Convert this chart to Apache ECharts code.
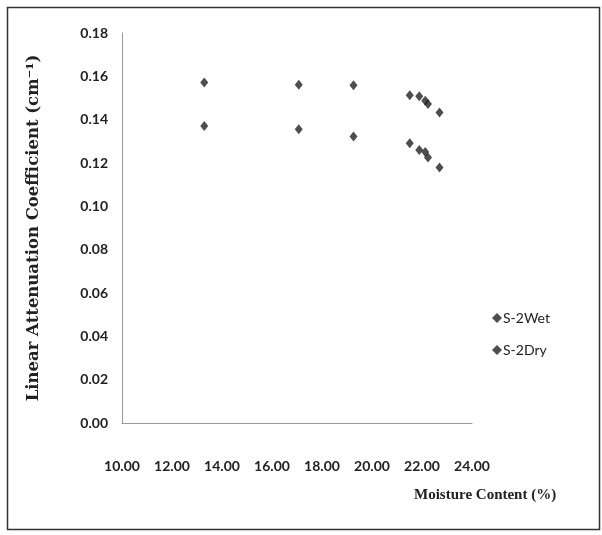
<!DOCTYPE html>
<html>
<head>
<meta charset="utf-8">
<script src="https://cdn.jsdelivr.net/npm/echarts@6/dist/echarts.min.js"></script>
<style>
html,body{margin:0;padding:0;background:#fff;}
#c{width:602px;height:535px;}
</style>
</head>
<body>
<div id="c"></div>
<script>
var moisture = [13.29, 17.07, 19.26, 21.51, 21.89, 22.13, 22.24, 22.70];
var wetValues = [0.1572, 0.1561, 0.1559, 0.1513, 0.1508, 0.1487, 0.1472, 0.1433];
var dryValues = [0.1371, 0.1356, 0.1322, 0.1291, 0.1260, 0.1251, 0.1225, 0.1179];
var seriesNames = ['S-2Wet', 'S-2Dry'];
var xTicks = {min: 10, max: 24, interval: 2};
var yTicks = {min: 0, max: 0.18, interval: 0.02};

function pairs(xs, ys){ return xs.map(function(x,i){ return [x, ys[i]]; }); }

var chart = echarts.init(document.getElementById('c'), null, {renderer:'canvas'});
var labelFont = {color:'#222', fontFamily:'Lato, sans-serif', fontSize:14, fontWeight:'bold'};
chart.setOption({
  animation:false,
  backgroundColor:'#fff',
  grid:{left:122, top:33, right:130, bottom:112, containLabel:false},
  legend:{
    orient:'vertical', left:487, top:306, itemGap:18,
    itemWidth:10, itemHeight:10, icon:'diamond',
    data:seriesNames,
    textStyle:{color:'#222', fontFamily:'Lato, sans-serif', fontSize:14, padding:[0,0,0,-4]}
  },
  xAxis:{
    type:'value', min:xTicks.min, max:xTicks.max, interval:xTicks.interval,
    axisLine:{show:true, lineStyle:{color:'#999', width:1}},
    axisTick:{show:false},
    splitLine:{show:false},
    axisLabel:Object.assign({margin:36, formatter:function(v){return v.toFixed(2);}}, labelFont)
  },
  yAxis:{
    type:'value', min:yTicks.min, max:yTicks.max, interval:yTicks.interval,
    name:'Linear Attenuation Coefficient (cm\u207B\u00B9)',
    nameLocation:'middle', nameGap:80, nameRotate:90,
    nameTextStyle:{color:'#222', fontFamily:'DejaVu Serif, serif', fontSize:16.5, fontWeight:'bold'},
    axisLine:{show:true, lineStyle:{color:'#999', width:1}},
    axisTick:{show:false},
    splitLine:{show:false},
    axisLabel:Object.assign({margin:14, formatter:function(v){return v.toFixed(2);}}, labelFont)
  },
  graphic:[
    {type:'rect', left:5, top:5, shape:{width:592, height:522}, style:{fill:'none', stroke:'#333', lineWidth:1.5}, silent:true},
    {type:'text', left:414, top:488, style:{text:'Moisture Content (%)', fill:'#222', font:'bold 15px "Liberation Serif", serif'}}
  ],
  series:[
    {name:seriesNames[0], type:'scatter', symbol:'diamond', symbolSize:[8,10], itemStyle:{color:'#222'}, data:pairs(moisture, wetValues)},
    {name:seriesNames[1], type:'scatter', symbol:'diamond', symbolSize:[8,10], itemStyle:{color:'#222'}, data:pairs(moisture, dryValues)}
  ]
});
</script>
</body>
</html>
